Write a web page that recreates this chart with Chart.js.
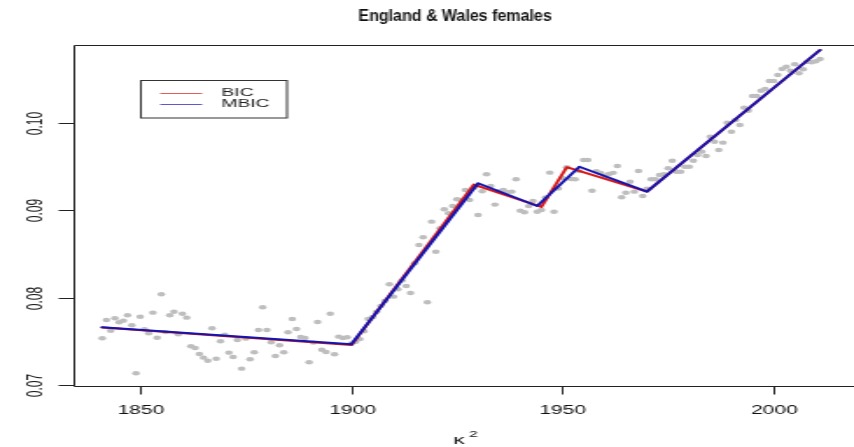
<!DOCTYPE html>
<html>
<head>
<meta charset="utf-8">
<script src="https://cdn.jsdelivr.net/npm/chart.js@4"></script>
<style>
html, body { margin: 0; padding: 0; background: #fff; }
canvas { display: block; }
</style>
</head>
<body>
<!-- The reference is an R plot stretched sideways, so the canvas is drawn narrow and stretched by CSS. -->
<canvas id="chart" width="488" height="447" style="width:854px;height:447px"></canvas>
<script>
const firstYear = 1841;
const lastYear = 2011;
const years = [];
for (let yr = firstYear; yr <= lastYear; yr++) years.push(yr);

// Observed kappa values, one per year.
const kappa = [
    0.07539, 0.07749, 0.07626, 0.07768, 0.07722, 0.07741, 0.07802, 0.07688, 0.07139, 0.07786,
    0.07642, 0.07597, 0.07832, 0.07546, 0.08042, 0.07610, 0.07802, 0.07843, 0.07585, 0.07820,
    0.07775, 0.07448, 0.07429, 0.07360, 0.07318, 0.07283, 0.07654, 0.07306, 0.07505, 0.07580,
    0.07375, 0.07326, 0.07520, 0.07192, 0.07535, 0.07299, 0.07380, 0.07634, 0.07894, 0.07634,
    0.07494, 0.07337, 0.07459, 0.07380, 0.07608, 0.07760, 0.07646, 0.07554, 0.07543, 0.07265,
    0.07490, 0.07726, 0.07409, 0.07383, 0.07820, 0.07357, 0.07558, 0.07543, 0.07551, 0.07480,
    0.07500, 0.07530, 0.07620, 0.07760, 0.07780, 0.07843, 0.07910, 0.07969, 0.08157, 0.08015,
    0.08100, 0.08200, 0.08137, 0.08057, 0.08397, 0.08606, 0.08694, 0.07951, 0.08872, 0.08529,
    0.08797, 0.09014, 0.08968, 0.09051, 0.09128, 0.09120, 0.09234, 0.09120, 0.09260, 0.08949,
    0.09220, 0.09414, 0.09280, 0.09067, 0.09220, 0.09234, 0.09210, 0.09215, 0.09357, 0.08998,
    0.08980, 0.09050, 0.09109, 0.08986, 0.09006, 0.09150, 0.09432, 0.08986, 0.09250, 0.09370,
    0.09494, 0.09360, 0.09357, 0.09450, 0.09577, 0.09577, 0.09226, 0.09448, 0.09430, 0.09400,
    0.09417, 0.09430, 0.09509, 0.09151, 0.09203, 0.09329, 0.09215, 0.09451, 0.09166, 0.09250,
    0.09357, 0.09357, 0.09406, 0.09414, 0.09482, 0.09569, 0.09443, 0.09443, 0.09500, 0.09500,
    0.09569, 0.09634, 0.09672, 0.09623, 0.09843, 0.09786, 0.09691, 0.09775, 0.10003, 0.09900,
    0.10034, 0.09977, 0.10175, 0.10140, 0.10309, 0.10309, 0.10369, 0.10389, 0.10480, 0.10480,
    0.10549, 0.10617, 0.10643, 0.10598, 0.10671, 0.10568, 0.10614, 0.10700, 0.10694, 0.10705, 0.10731
];

// Piecewise linear fits (knots).
const bicYears = [1841, 1900, 1929, 1945, 1951, 1970, 2011];
const bicValues = [0.07662, 0.07462, 0.09295, 0.09040, 0.09494, 0.09215, 0.10834];
const mbicYears = [1841, 1900, 1930, 1944, 1954, 1970, 2011];
const mbicValues = [0.07665, 0.07471, 0.09311, 0.09051, 0.09500, 0.09215, 0.10834];

const xTicks = [1850, 1900, 1950, 2000];
const yTicks = [0.07, 0.08, 0.09, 0.10];
const yTickLabels = ['0.07', '0.08', '0.09', '0.10'];
const legendLabels = ['BIC', 'MBIC'];
const chartTitle = 'England & Wales females';
const xTitle = 'κ';
const xTitleSup = '2';

const RED = '#d81818';
const BLUE = '#1414b0';
const FONT = '"Liberation Sans", Arial, Helvetica, sans-serif';
const STRETCH = 854 / 488;

function toPoints(xs, ys) {
    return xs.map((x, i) => ({ x: x, y: ys[i] }));
}

// R-style box, ticks, labels and legend.
const rStyle = {
    id: 'rStyle',
    beforeDraw(chart) {
        const ctx = chart.ctx;
        ctx.save();
        ctx.fillStyle = '#fff';
        ctx.fillRect(0, 0, chart.width, chart.height);
        ctx.restore();
    },
    afterDraw(chart) {
        const { ctx, chartArea: a, scales: { x, y } } = chart;
        ctx.save();
        ctx.strokeStyle = '#222';
        ctx.lineWidth = 1;
        ctx.beginPath();
        ctx.moveTo(chart.width + 2, a.top + 0.5);
        ctx.lineTo(a.left + 0.5, a.top + 0.5);
        ctx.lineTo(a.left + 0.5, a.bottom + 0.5);
        ctx.lineTo(chart.width + 2, a.bottom + 0.5);
        ctx.stroke();

        ctx.fillStyle = '#111';
        ctx.font = '12px ' + FONT;
        ctx.textAlign = 'center';
        ctx.textBaseline = 'alphabetic';
        xTicks.forEach(t => {
            const px = Math.round(x.getPixelForValue(t)) + 0.5;
            ctx.beginPath();
            ctx.moveTo(px, a.bottom);
            ctx.lineTo(px, a.bottom + 8.5);
            ctx.stroke();
            ctx.fillText(String(t), px, 414);
        });
        yTicks.forEach((t, i) => {
            const py = Math.round(y.getPixelForValue(t)) + 0.5;
            ctx.beginPath();
            ctx.moveTo(a.left, py);
            ctx.lineTo(a.left - 8.5, py);
            ctx.stroke();
            ctx.save();
            ctx.translate(24, py);
            ctx.rotate(-Math.PI / 2);
            ctx.fillText(yTickLabels[i], 0, 0);
            ctx.restore();
        });

        // Title is not stretched in the reference: undo the CSS stretch for it.
        ctx.save();
        ctx.translate(455 / STRETCH, 21);
        ctx.scale(1 / STRETCH, 1);
        ctx.font = 'bold 16px ' + FONT;
        ctx.fillText(chartTitle, 0, 0);
        ctx.restore();

        // Axis title kappa^2
        ctx.font = '13px ' + FONT;
        ctx.textAlign = 'left';
        const kx = (a.left + a.right) / 2 - 4;
        ctx.fillText(xTitle, kx, 444);
        ctx.font = '9px ' + FONT;
        ctx.fillText(xTitleSup, kx + ctx.measureText(xTitle).width + 4.5, 437);

        // Legend
        ctx.strokeStyle = '#333';
        ctx.strokeRect(80.5, 80.5, 83.5, 37.5);
        const rows = [93, 104];
        const cols = [RED, BLUE];
        ctx.font = '11px ' + FONT;
        ctx.textBaseline = 'middle';
        ctx.fillStyle = '#222';
        rows.forEach((ry, i) => {
            ctx.strokeStyle = cols[i];
            ctx.globalAlpha = 0.7;
            ctx.beginPath();
            ctx.moveTo(91.5, ry + 0.5);
            ctx.lineTo(115.5, ry + 0.5);
            ctx.stroke();
            ctx.globalAlpha = 1;
            ctx.fillText(legendLabels[i], 126.5, ry);
        });
        ctx.restore();
    }
};

const lineStyle = {
    type: 'line',
    pointRadius: 0,
    borderWidth: 2,
    tension: 0,
    fill: false,
    borderJoinStyle: 'round',
    borderCapStyle: 'round'
};

const chart = new Chart(document.getElementById('chart'), {
    type: 'line',
    data: {
        datasets: [
            Object.assign({}, lineStyle, {
                label: legendLabels[1],
                data: toPoints(mbicYears, mbicValues),
                borderColor: BLUE,
                order: 0
            }),
            Object.assign({}, lineStyle, {
                label: legendLabels[0],
                data: toPoints(bicYears, bicValues),
                borderColor: RED,
                order: 1
            }),
            {
                type: 'scatter',
                label: 'observed',
                data: toPoints(years, kappa),
                showLine: false,
                pointRadius: 2.2,
                pointBorderWidth: 0,
                pointBackgroundColor: '#bebebe',
                pointBorderColor: '#bebebe',
                order: 2
            }
        ]
    },
    options: {
        responsive: false,
        animation: false,
        devicePixelRatio: 1,
        layout: { padding: { left: 42, right: 0, top: 45, bottom: 61 } },
        scales: {
            x: { type: 'linear', min: 1834.2, max: 2017.38, display: false },
            y: { type: 'linear', min: 0.06994, max: 0.10891, display: false }
        },
        plugins: {
            legend: { display: false },
            tooltip: { enabled: false },
            title: { display: false }
        }
    },
    plugins: [rStyle]
});
</script>
</body>
</html>
